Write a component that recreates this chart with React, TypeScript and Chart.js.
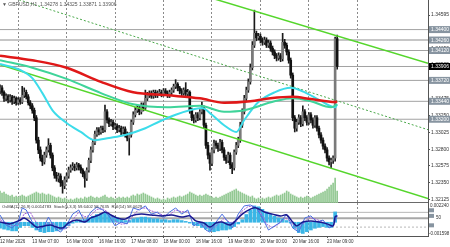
import React, { useEffect, useRef } from "react";
import { Chart, registerables } from "chart.js";

Chart.register(...registerables);

const FONT = "'Liberation Sans', 'DejaVu Sans', Arial, sans-serif";

// ---------- price data (H1 bars, index 0 = 12 Mar 15:00) ----------
const OPEN = [
  1.3358,1.3362,1.3356,1.3348,1.3351,1.3346,1.3350,1.3344,1.3348,1.3342,
  1.3346,1.3343,1.3352,1.3356,1.3350,1.3342,1.3338,1.3332,1.3322,1.3292,
  1.3279,1.3268,1.3263,1.3272,1.3279,1.3285,1.3272,1.3255,1.3245,1.3241,
  1.3244,1.3235,1.3231,1.3239,1.3244,1.3252,1.3255,1.3257,1.3255,1.3259,
  1.3256,1.3252,1.3247,1.3241,1.3252,1.3265,1.3279,1.3289,1.3300,1.3306,
  1.3303,1.3308,1.3306,1.3330,1.3319,1.3314,1.3316,1.3310,1.3311,1.3306,
  1.3308,1.3303,1.3307,1.3300,1.3295,1.3299,1.3316,1.3326,1.3332,1.3335,
  1.3330,1.3339,1.3335,1.3348,1.3352,1.3355,1.3351,1.3356,1.3352,1.3355,
  1.3356,1.3354,1.3358,1.3355,1.3352,1.3356,1.3359,1.3364,1.3367,1.3362,
  1.3358,1.3355,1.3359,1.3354,1.3356,1.3332,1.3322,1.3319,1.3326,1.3322,
  1.3330,1.3335,1.3312,1.3285,1.3272,1.3261,1.3279,1.3288,1.3285,1.3281,
  1.3289,1.3279,1.3269,1.3265,1.3272,1.3259,1.3255,1.3276,1.3285,1.3292,
  1.3312,1.3330,1.3348,1.3359,1.3370,1.3389,1.3419,1.3435,1.3429,1.3431,
  1.3426,1.3423,1.3426,1.3419,1.3422,1.3415,1.3410,1.3405,1.3402,1.3405,
  1.3401,1.3423,1.3419,1.3410,1.3399,1.3379,1.3322,1.3308,1.3316,1.3322,
  1.3314,1.3330,1.3322,1.3316,1.3326,1.3319,1.3312,1.3322,1.3308,1.3299,
  1.3292,1.3284,1.3279,1.3268,1.3263,1.3265,1.3268,1.34278,
];
const HIGH = [
  1.3366,1.3365,1.3358,1.3354,1.3353,1.3353,1.3352,1.3351,1.3350,1.3349,
  1.3349,1.3364,1.3362,1.3359,1.3353,1.3345,1.3341,1.3335,1.3325,1.3296,
  1.3283,1.3272,1.3276,1.3283,1.3294,1.3288,1.3275,1.3258,1.3249,1.3248,
  1.3247,1.3238,1.3243,1.3248,1.3256,1.3259,1.3262,1.3260,1.3262,1.3261,
  1.3259,1.3254,1.3250,1.3255,1.3268,1.3283,1.3293,1.3304,1.3309,1.3309,
  1.3311,1.3311,1.3339,1.3333,1.3322,1.3320,1.3319,1.3315,1.3314,1.3312,
  1.3311,1.3310,1.3310,1.3303,1.3302,1.3319,1.3330,1.3336,1.3339,1.3338,
  1.3342,1.3342,1.3359,1.3356,1.3358,1.3358,1.3359,1.3359,1.3358,1.3360,
  1.3359,1.3361,1.3361,1.3358,1.3359,1.3362,1.3367,1.3373,1.3369,1.3364,
  1.3361,1.3362,1.3369,1.3360,1.3358,1.3335,1.3326,1.3329,1.3329,1.3333,
  1.3343,1.3338,1.3315,1.3289,1.3275,1.3282,1.3292,1.3291,1.3288,1.3293,
  1.3292,1.3282,1.3272,1.3276,1.3275,1.3262,1.3279,1.3289,1.3296,1.3316,
  1.3334,1.3352,1.3363,1.3374,1.3394,1.3424,1.3466,1.3438,1.3435,1.3434,
  1.3429,1.3430,1.3429,1.3426,1.3425,1.3418,1.3413,1.3408,1.3409,1.3408,
  1.3435,1.3427,1.3422,1.3413,1.3402,1.3382,1.3325,1.3320,1.3326,1.3325,
  1.3338,1.3333,1.3325,1.3329,1.3329,1.3322,1.3325,1.3325,1.3311,1.3302,
  1.3295,1.3287,1.3282,1.3271,1.3268,1.3271,1.3430,1.34325,
];
const LOW = [
  1.3354,1.3352,1.3344,1.3345,1.3342,1.3343,1.3340,1.3341,1.3339,1.3340,
  1.3340,1.3341,1.3349,1.3347,1.3339,1.3334,1.3328,1.3318,1.3288,1.3274,
  1.3264,1.3258,1.3260,1.3269,1.3276,1.3268,1.3251,1.3241,1.3237,1.3236,
  1.3230,1.3221,1.3227,1.3236,1.3241,1.3249,1.3252,1.3251,1.3252,1.3252,
  1.3248,1.3243,1.3229,1.3238,1.3249,1.3262,1.3276,1.3286,1.3297,1.3299,
  1.3300,1.3302,1.3303,1.3315,1.3310,1.3311,1.3306,1.3307,1.3302,1.3303,
  1.3299,1.3300,1.3296,1.3291,1.3272,1.3296,1.3313,1.3323,1.3329,1.3326,
  1.3327,1.3331,1.3332,1.3345,1.3349,1.3348,1.3348,1.3349,1.3349,1.3352,
  1.3350,1.3351,1.3352,1.3349,1.3349,1.3353,1.3356,1.3361,1.3358,1.3354,
  1.3351,1.3352,1.3350,1.3351,1.3328,1.3318,1.3315,1.3316,1.3318,1.3319,
  1.3327,1.3308,1.3281,1.3267,1.3252,1.3258,1.3275,1.3281,1.3277,1.3278,
  1.3275,1.3265,1.3261,1.3262,1.3254,1.3247,1.3252,1.3273,1.3282,1.3289,
  1.3309,1.3327,1.3345,1.3356,1.3367,1.3386,1.3416,1.3425,1.3426,1.3422,
  1.3419,1.3420,1.3416,1.3416,1.3411,1.3406,1.3401,1.3398,1.3399,1.3397,
  1.3398,1.3415,1.3406,1.3395,1.3375,1.3318,1.3303,1.3304,1.3313,1.3310,
  1.3311,1.3318,1.3312,1.3313,1.3315,1.3308,1.3309,1.3304,1.3295,1.3288,
  1.3280,1.3275,1.3264,1.3259,1.3255,1.3261,1.3264,1.33871,
];
const CLOSE = [
  1.3362,1.3356,1.3348,1.3351,1.3346,1.3350,1.3344,1.3348,1.3342,1.3346,
  1.3343,1.3352,1.3356,1.3350,1.3342,1.3338,1.3332,1.3322,1.3292,1.3279,
  1.3268,1.3263,1.3272,1.3279,1.3285,1.3272,1.3255,1.3245,1.3241,1.3244,
  1.3235,1.3231,1.3239,1.3244,1.3252,1.3255,1.3257,1.3255,1.3259,1.3256,
  1.3252,1.3247,1.3241,1.3252,1.3265,1.3279,1.3289,1.3300,1.3306,1.3303,
  1.3308,1.3306,1.3330,1.3319,1.3314,1.3316,1.3310,1.3311,1.3306,1.3308,
  1.3303,1.3307,1.3300,1.3295,1.3299,1.3316,1.3326,1.3332,1.3335,1.3330,
  1.3339,1.3335,1.3348,1.3352,1.3355,1.3351,1.3356,1.3352,1.3355,1.3356,
  1.3354,1.3358,1.3355,1.3352,1.3356,1.3359,1.3364,1.3367,1.3362,1.3358,
  1.3355,1.3359,1.3354,1.3356,1.3332,1.3322,1.3319,1.3326,1.3322,1.3330,
  1.3335,1.3312,1.3285,1.3272,1.3261,1.3279,1.3288,1.3285,1.3281,1.3289,
  1.3279,1.3269,1.3265,1.3272,1.3259,1.3255,1.3276,1.3285,1.3292,1.3312,
  1.3330,1.3348,1.3359,1.3370,1.3389,1.3419,1.3435,1.3429,1.3431,1.3426,
  1.3423,1.3426,1.3419,1.3422,1.3415,1.3410,1.3405,1.3402,1.3405,1.3401,
  1.3423,1.3419,1.3410,1.3399,1.3379,1.3322,1.3308,1.3316,1.3322,1.3314,
  1.3330,1.3322,1.3316,1.3326,1.3319,1.3312,1.3322,1.3308,1.3299,1.3292,
  1.3284,1.3279,1.3268,1.3263,1.3265,1.3268,1.34278,1.33906,
];
const VOLUME = [
  1200,1000,1100,900,800,700,800,600,700,600,
  700,800,700,600,700,800,900,1000,1100,1000,
  900,1000,900,800,900,800,700,600,500,600,
  500,400,500,400,300,400,300,400,500,400,
  500,400,600,500,600,700,600,500,600,500,
  600,700,800,600,500,600,500,400,500,600,
  500,600,500,600,500,700,800,700,900,800,
  900,1000,900,800,700,600,500,400,500,400,
  300,400,300,500,400,500,600,500,600,700,
  600,700,800,900,1100,1000,900,800,700,800,
  700,800,900,800,700,600,500,600,500,600,
  700,800,900,1000,1100,1200,1300,1400,1200,1100,
  1000,900,800,700,600,700,500,400,500,400,
  500,400,500,600,500,600,700,800,700,800,
  900,1000,1200,1100,900,800,700,600,500,600,
  500,600,700,600,500,600,700,800,900,1000,
  1100,1200,1400,1600,1800,2000,2500,1200,
];

// ---------- moving averages (bar index -> price) ----------
const RED_X = [0,16,33,50,66,83,99,111,124,134,145,154,166,167];
const RED_Y = [1.3405,1.3399,1.3389,1.3370,1.3356,1.3352,1.3348,1.3342,1.3344,1.3348,1.3350,1.3347,1.3343,1.3344];
const TEAL_X = [0,16,33,50,66,83,99,111,121,136,145,154,164,167];
const TEAL_Y = [1.3399,1.3389,1.3374,1.3355,1.3340,1.3336,1.3338,1.3330,1.3332,1.3344,1.3348,1.3344,1.3336,1.3340];
const CYAN_X = [0,10,16,21,26,33,40,47,54,62,72,79,87,94,100,105,111,117,121,128,136,144,151,158,166,167];
const CYAN_Y = [1.3394,1.3386,1.3375,1.3355,1.3332,1.3315,1.3303,1.3292,1.3295,1.3299,1.3308,1.3317,1.3326,1.3332,1.3335,1.3326,1.3312,1.3303,1.3319,1.3343,1.3356,1.3362,1.3356,1.3346,1.3336,1.3340];

// ---------- trend channel lines ----------
const CH_UP_X = [100, 212];
const CH_UP_Y = [1.3486, 1.3395];
const CH_LO_X = [0, 212];
const CH_LO_Y = [1.3393, 1.3214];
const DOT_X = [0, 212];
const DOT_Y = [1.3488, 1.3306];

// ---------- horizontal levels ----------
const LEVELS = [1.34400, 1.34260, 1.34120, 1.33720, 1.33440, 1.33200];
const BID = 1.33906;

// ---------- oscillators ----------
const OSMA = [
  -0.0007,-0.0008,-0.0009,-0.0010,-0.0010,-0.0006,-0.0004,-0.0004,-0.0006,-0.0009,
  -0.0011,-0.0012,-0.0011,-0.0011,-0.0010,-0.0009,-0.0007,-0.0004,-0.0001,0.0002,
  0.0003,0.0003,0.0005,0.0007,0.0009,0.0010,0.0011,0.0009,0.0007,0.0005,
  0.0003,0.0002,0.0002,0.0004,0.0005,0.0006,0.0006,0.0005,0.0004,0.0004,
  0.0003,0.0003,0.0002,0.0003,0.0003,0.0002,0.0001,-0.0001,-0.0003,-0.0004,
  -0.0006,-0.0008,-0.0010,-0.0011,-0.0010,-0.0009,-0.0009,-0.0008,-0.0005,-0.0002,
  0.0003,0.0009,0.0014,0.0019,0.0018,0.0015,0.0012,0.0009,0.0007,0.0005,
  0.0004,0.0002,-0.0001,-0.0007,-0.0012,-0.0013,-0.0011,-0.0009,-0.0007,-0.0006,
  -0.0005,-0.0006,-0.0006,0.0012,
];
const RSI_X = [0,5,10,12,15,18,22,25,28,31,34,38,42,45,49,52,55,58,62,65,70,75,80,85,90,94,97,101,104,107,110,114,117,120,124,127,131,135,139,142,145,147,150,154,158,162,165,166,167];
const RSI_Y = [37,31,44,51,37,20,24,27,20,17,34,44,37,51,61,71,61,51,47,58,64,61,58,61,54,58,41,34,20,34,37,27,44,64,81,85,71,64,58,61,37,24,37,41,37,31,24,55,58];
const STOCH_X = [0,3,6,9,11,13,16,19,22,24,27,30,33,36,39,42,45,48,51,54,57,60,63,66,69,72,75,78,81,84,87,90,93,96,99,102,104,107,110,113,115,118,121,124,127,130,133,136,139,142,145,148,151,154,157,160,163,165,167];
const STOCH_MAIN = [61,27,17,37,85,78,37,10,24,54,17,3,27,64,78,37,71,88,78,58,24,37,31,85,78,92,64,71,51,71,85,64,78,24,37,10,3,37,64,37,17,64,92,95,85,51,10,24,37,64,17,3,51,58,37,44,17,24,60];
const SIG_X = [0,3,6,9,12,15,18,21,24,27,30,33,36,39,42,45,48,51,54,57,60,63,66,69,72,75,78,81,84,87,90,93,96,99,102,105,108,111,114,117,120,123,126,129,132,135,138,141,144,147,150,153,156,159,162,165,167];
const STOCH_SIG = [45,35,25,26,65,70,35,18,35,30,12,15,45,70,55,60,80,82,68,40,30,32,60,82,85,75,68,60,62,78,72,72,45,32,22,12,30,50,35,38,75,90,90,70,30,18,30,52,40,12,30,52,48,40,30,22,59];
const OSC_LEVELS = [70, 50, 20];
const OSC_BOXES = [77, 58, 26];
const OSMA_MAX = 0.002240;
const OSMA_MIN = -0.001598;

// ---------- axes / texts ----------
const X_MIN = 0;
const X_MAX = 212;
const P_MIN = 1.32079;
const P_MAX = 1.34796;
const DAY_IDX = [9, 33, 57, 81, 105, 129, 153, 177];
const XLABEL_IDX = [0, 16, 33, 49, 65, 81, 97, 113, 129, 145, 162];
const XLABELS = ["12 Mar 2026","13 Mar 07:00","16 Mar 00:00","16 Mar 16:00","17 Mar 08:00","18 Mar 00:00","18 Mar 16:00","19 Mar 08:00","20 Mar 00:00","20 Mar 16:00","23 Mar 09:00"];
const Y_TICKS = [1.32125,1.32350,1.32575,1.32800,1.33025,1.33250,1.33475,1.33700,1.33925,1.34150,1.34375,1.34595];
const TITLE = "\u25BC GBPUSD,H1  1.34278 1.34325 1.33871 1.33906";
const IND_TEXT = "OsMA(12,26,9) 0.0014783  Stoch(5,3,3) 59.6402 58.7635  RSI(14) 58.0629";

const pts = (xs: number[], ys: number[]) => xs.map((x, i) => ({ x, y: ys[i] }));

const lineDs = (xs: number[], ys: number[], color: string, width: number, order: number, extra: any = {}) => ({
  type: "line",
  data: pts(xs, ys),
  borderColor: color,
  borderWidth: width,
  pointRadius: 0,
  fill: false,
  order,
  ...extra,
});

const mainOverlay = {
  id: "mainOverlay",
  afterDraw(chart: any) {
    const { ctx, chartArea, scales } = chart;
    const y = scales.y;
    ctx.save();
    ctx.font = `5px ${FONT}`;
    ctx.textBaseline = "middle";
    ctx.textAlign = "left";
    const box = (v: number, bg: string) => {
      const py = y.getPixelForValue(v);
      ctx.fillStyle = bg;
      ctx.fillRect(chartArea.right + 1, py - 3.5, 21, 7);
      ctx.fillStyle = "#ffffff";
      ctx.fillText(v.toFixed(5), chartArea.right + 3, py + 0.5);
    };
    LEVELS.forEach((v) => box(v, "#8794a0"));
    box(BID, "#000000");
    ctx.fillStyle = "#555555";
    ctx.fillText(TITLE, 2, 4.5);
    ctx.restore();
  },
};

const oscOverlay = {
  id: "oscOverlay",
  afterDraw(chart: any) {
    const { ctx, chartArea, scales } = chart;
    const r = chartArea.right;
    ctx.save();
    ctx.textBaseline = "middle";
    ctx.textAlign = "left";
    ctx.font = `4.2px ${FONT}`;
    ctx.fillStyle = "#333333";
    ctx.fillText(IND_TEXT, 2, chartArea.top + 3.5);
    const yp = scales.yp;
    OSC_BOXES.forEach((v) => {
      const py = yp.getPixelForValue(v);
      ctx.fillStyle = "#8794a0";
      ctx.fillRect(r + 1, py - 2, 5, 4);
    });
    ctx.font = `4.5px ${FONT}`;
    ctx.fillStyle = "#333333";
    ctx.fillText(OSMA_MAX.toFixed(6), r + 2, chartArea.top + 2.5);
    ctx.fillText(OSMA_MIN.toFixed(6), r + 1, chartArea.bottom - 2.5);
    ctx.fillText("50", r + 8, yp.getPixelForValue(50));
    ctx.restore();
  },
};

const dayGrid = {
  type: "linear",
  min: X_MIN,
  max: X_MAX,
  offset: false,
  bounds: "data",
  afterBuildTicks: (s: any) => {
    s.ticks = DAY_IDX.map((v) => ({ value: v }));
  },
  ticks: { display: false },
  grid: { color: "#8a8a8a", lineWidth: 1, drawTicks: false, offset: false },
};

export default function App() {
  const mainRef = useRef<HTMLCanvasElement>(null);
  const oscRef = useRef<HTMLCanvasElement>(null);

  useEffect(() => {
    const wicks = CLOSE.map((_, i) => ({ x: i, y: [LOW[i], HIGH[i]] }));
    const bodies = CLOSE.map((c, i) => ({ x: i, y: [OPEN[i], c] }));
    const bodyColors = CLOSE.map((c, i) => (c >= OPEN[i] ? "#7a7a7a" : "#111111"));
    const vols = VOLUME.map((v, i) => ({ x: i, y: v }));

    const levelSets = LEVELS.concat([BID]).map((v) =>
      lineDs([X_MIN, X_MAX], [v, v], v === 1.3426 ? "#c6c6c6" : "#a2a2a2", v === 1.3426 ? 2 : 1, 8)
    );

    const main = new Chart(mainRef.current as HTMLCanvasElement, {
      type: "line",
      data: {
        datasets: [
          lineDs(RED_X, RED_Y, "#e01818", 2.5, 1, { cubicInterpolationMode: "monotone" }),
          lineDs(TEAL_X, TEAL_Y, "#3fd49a", 2, 2, { cubicInterpolationMode: "monotone" }),
          lineDs(CYAN_X, CYAN_Y, "#3cdcea", 2, 3, { cubicInterpolationMode: "monotone" }),
          lineDs(CH_UP_X, CH_UP_Y, "#55d62c", 1.5, 4),
          lineDs(CH_LO_X, CH_LO_Y, "#55d62c", 1.5, 4),
          lineDs(DOT_X, DOT_Y, "#4aa84a", 1, 4, { borderDash: [2, 2] }),
          {
            type: "bar",
            data: bodies,
            backgroundColor: bodyColors,
            barThickness: 2,
            minBarLength: 1,
            grouped: false,
            order: 6,
          },
          {
            type: "bar",
            data: wicks,
            backgroundColor: "#1a1a1a",
            barThickness: 1,
            grouped: false,
            order: 7,
          },
          ...levelSets,
          {
            type: "bar",
            data: vols,
            yAxisID: "yv",
            backgroundColor: "#92c892",
            barThickness: 1,
            grouped: false,
            order: 9,
          },
        ] as any,
      },
      options: {
        animation: false,
        responsive: false,
        maintainAspectRatio: false,
        devicePixelRatio: 1,
        events: [],
        layout: { padding: 0 },
        plugins: { legend: { display: false }, tooltip: { enabled: false } },
        scales: {
          x: {
            ...dayGrid,
            border: { display: true, color: "#6a6a6a", width: 2, dash: [2, 2] },
          },
          y: {
            type: "linear",
            position: "right",
            min: P_MIN,
            max: P_MAX,
            bounds: "data",
            afterBuildTicks: (s: any) => {
              s.ticks = Y_TICKS.map((v) => ({ value: v }));
            },
            afterFit: (s: any) => {
              s.width = 22;
              s.paddingTop = 0;
              s.paddingBottom = 0;
            },
            ticks: {
              autoSkip: false,
              padding: 1,
              color: "#333333",
              font: { size: 5, family: FONT },
              callback: (v: any) => Number(v).toFixed(5),
            },
            grid: { drawOnChartArea: false, drawTicks: true, tickLength: 2, color: "#555555" },
            border: { display: true, color: "#555555", width: 1 },
          },
          yv: { type: "linear", display: false, min: 0, max: 20300 },
        } as any,
      },
      plugins: [mainOverlay],
    } as any);

    const osc = new Chart(oscRef.current as HTMLCanvasElement, {
      type: "line",
      data: {
        datasets: [
          lineDs(RSI_X, RSI_Y, "#18188f", 1.5, 1, { yAxisID: "yp", tension: 0.3 }),
          lineDs(STOCH_X, STOCH_MAIN, "#4b6fe0", 1, 2, { yAxisID: "yp" }),
          lineDs(SIG_X, STOCH_SIG, "#a25ed6", 1, 3, { yAxisID: "yp", borderDash: [2, 1] }),
          {
            type: "bar",
            data: OSMA.map((v, k) => ({ x: 2 * k, y: v })),
            yAxisID: "yo",
            backgroundColor: "#3ab6e6",
            barThickness: 3,
            grouped: false,
            order: 5,
          },
          ...OSC_LEVELS.map((v) =>
            lineDs([X_MIN, X_MAX], [v, v], v === 50 ? "#a8a8a8" : "#b8b8b8", v === 50 ? 2 : 1, 8, {
              yAxisID: "yp",
              borderDash: v === 20 ? [2, 2] : [],
            })
          ),
        ] as any,
      },
      options: {
        animation: false,
        responsive: false,
        maintainAspectRatio: false,
        devicePixelRatio: 1,
        events: [],
        layout: { padding: 0 },
        plugins: { legend: { display: false }, tooltip: { enabled: false } },
        scales: {
          x: { ...dayGrid, border: { display: false, dash: [2, 2] } },
          xl: {
            type: "linear",
            position: "bottom",
            min: X_MIN,
            max: X_MAX,
            bounds: "data",
            afterBuildTicks: (s: any) => {
              s.ticks = XLABEL_IDX.map((v) => ({ value: v }));
            },
            afterFit: (s: any) => {
              s.height = 11;
              s.paddingLeft = 0;
              s.paddingRight = 0;
            },
            ticks: {
              autoSkip: false,
              maxRotation: 0,
              minRotation: 0,
              align: "start",
              padding: 1,
              color: "#333333",
              font: { size: 4.5, family: FONT },
              callback: (_v: any, i: number) => XLABELS[i] ?? "",
            },
            grid: { drawOnChartArea: false, drawTicks: true, tickLength: 2, color: "#555555" },
            border: { display: true, color: "#555555", width: 1 },
          },
          yo: {
            type: "linear",
            position: "right",
            min: OSMA_MIN,
            max: OSMA_MAX,
            bounds: "data",
            afterFit: (s: any) => {
              s.width = 22;
              s.paddingTop = 0;
              s.paddingBottom = 0;
            },
            ticks: { display: false },
            grid: { drawOnChartArea: false, drawTicks: false },
            border: { display: true, color: "#555555", width: 1 },
          },
          yp: { type: "linear", display: false, min: -10.2, max: 101.7 },
        } as any,
      },
      plugins: [oscOverlay],
    } as any);

    return () => {
      main.destroy();
      osc.destroy();
    };
  }, []);

  return (
    <div
      style={{
        position: "fixed",
        left: 0,
        top: 0,
        width: 450,
        height: 247,
        background: "#ffffff",
        overflow: "hidden",
      }}
    >
      <canvas
        ref={mainRef}
        width={450}
        height={203}
        style={{ position: "absolute", left: 0, top: 0, width: 450, height: 203, display: "block" }}
      />
      <canvas
        ref={oscRef}
        width={450}
        height={44}
        style={{ position: "absolute", left: 0, top: 203, width: 450, height: 44, display: "block" }}
      />
    </div>
  );
}
